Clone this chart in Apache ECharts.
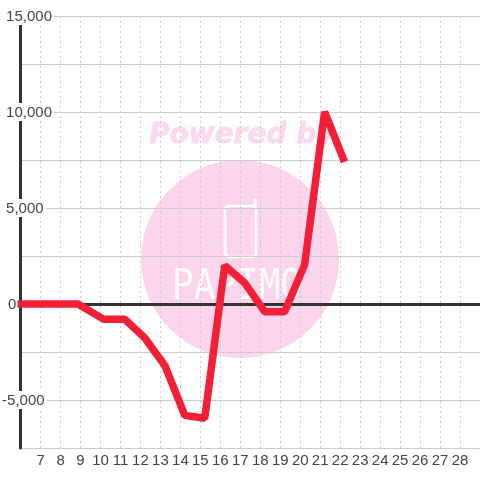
<!DOCTYPE html>
<html><head><meta charset="utf-8">
<style>html,body{margin:0;padding:0;background:#fff}#c{width:480px;height:480px}</style>
<script src="https://cdn.jsdelivr.net/npm/echarts@6/dist/echarts.min.js"></script>
</head><body><div id="c"></div>
<script>
const xDays = [5.85, 7.22, 8.22, 8.87, 10.17, 11.22, 12.22, 13.22, 14.22, 15.22, 16.22, 17.22, 18.22, 19.22, 20.22, 21.22, 22.22];
const values = [0, 0, 0, 0, -800, -800, -1770, -3200, -5800, -5950, 2000, 1100, -400, -400, 2050, 10000, 7400];
const tickDays = [7,8,9,10,11,12,13,14,15,16,17,18,19,20,21,22,23,24,25,26,27,28];
const labelledValues = [15000, 10000, 5000, 0, -5000];
const watermarkTitle = 'Powered by';
const watermarkName = 'PAPIMO';

const fmt = v => (v < 0 ? '-' : '') + Math.abs(v).toLocaleString('en-US');
const chart = echarts.init(document.getElementById('c'), null, {renderer:'canvas'});
chart.setOption({
  animation:false,
  backgroundColor:'#fff',
  textStyle:{fontFamily:'"Liberation Sans"'},
  grid:{left:20.6,right:0,top:16,bottom:32,containLabel:false,outerBoundsMode:'none'},
  graphic:{elements:[
    {type:'circle',z:-10,silent:true,shape:{cx:240,cy:259,r:99},style:{fill:'#fbd5ec'}},
    {type:'text',z:-9,silent:true,x:149,y:122,style:{text:watermarkTitle,fill:'#fbd9ee',stroke:'#fbd9ee',lineWidth:0.8,font:'italic bold 28px "DejaVu Sans"'}},
    {type:'rect',z:-9,silent:true,shape:{x:225,y:206,width:31,height:51,r:4},style:{fill:'none',stroke:'#fff',lineWidth:2.5}},
    {type:'line',z:-9,silent:true,shape:{x1:255,y1:206,x2:255,y2:200},style:{stroke:'#fff',lineWidth:3,lineCap:'round'}},
    {type:'text',z:-9,silent:true,x:172,y:266,scaleY:1.2,style:{text:watermarkName,fill:'#fff',font:'normal 36px "DejaVu Sans Mono"',opacity:0.9}}
  ]},
  xAxis:[{
    type:'value',min:6,max:29,interval:1,
    axisLine:{show:false},axisTick:{show:false},
    axisLabel:{color:'#444',fontSize:15,margin:5,
      formatter:v=>tickDays.includes(v)?String(v):''},
    splitLine:{show:true,lineStyle:{color:'#ccc',type:[2,3],width:1}}
  }],
  yAxis:[{
    type:'value',min:-7500,max:15000,interval:2500,
    axisLine:{show:true,onZero:false,lineStyle:{color:'#333',width:3}},
    axisTick:{show:false},
    splitLine:{show:true,lineStyle:{color:'#ccc',width:1}},
    axisLabel:{show:true,inside:true,align:'left',margin:-18.5,color:'#444',fontSize:15,
      hideOverlap:false,showMinLabel:true,showMaxLabel:true,
      formatter:v=>{
        if(!labelledValues.includes(v)) return '';
        if(v<0) return '{n|'+fmt(v)+'}';
        if(v===0) return '{z|'+fmt(v)+'}';
        return '{p|'+fmt(v)+'}';
      },
      rich:{
        n:{backgroundColor:'#fff',color:'#444',fontSize:15,padding:[2,2,0,0],height:16},
        p:{backgroundColor:'#fff',color:'#444',fontSize:15,padding:[2,2,0,4],height:16},
        z:{backgroundColor:'#fff',color:'#444',fontSize:15,padding:[2,2,0,6],height:16}
      }
    }
  }],
  series:[{
    type:'line',
    data:xDays.map((d,i)=>[d,values[i]]),
    showSymbol:false,symbol:'none',clip:false,z:5,
    lineStyle:{color:'#f21f37',width:7.5,cap:'butt',join:'bevel'},
    markLine:{silent:true,symbol:'none',z:4,label:{show:false},
      lineStyle:{color:'#333',width:3,type:'solid'},data:[{yAxis:0}]}
  }]
});
</script></body></html>
